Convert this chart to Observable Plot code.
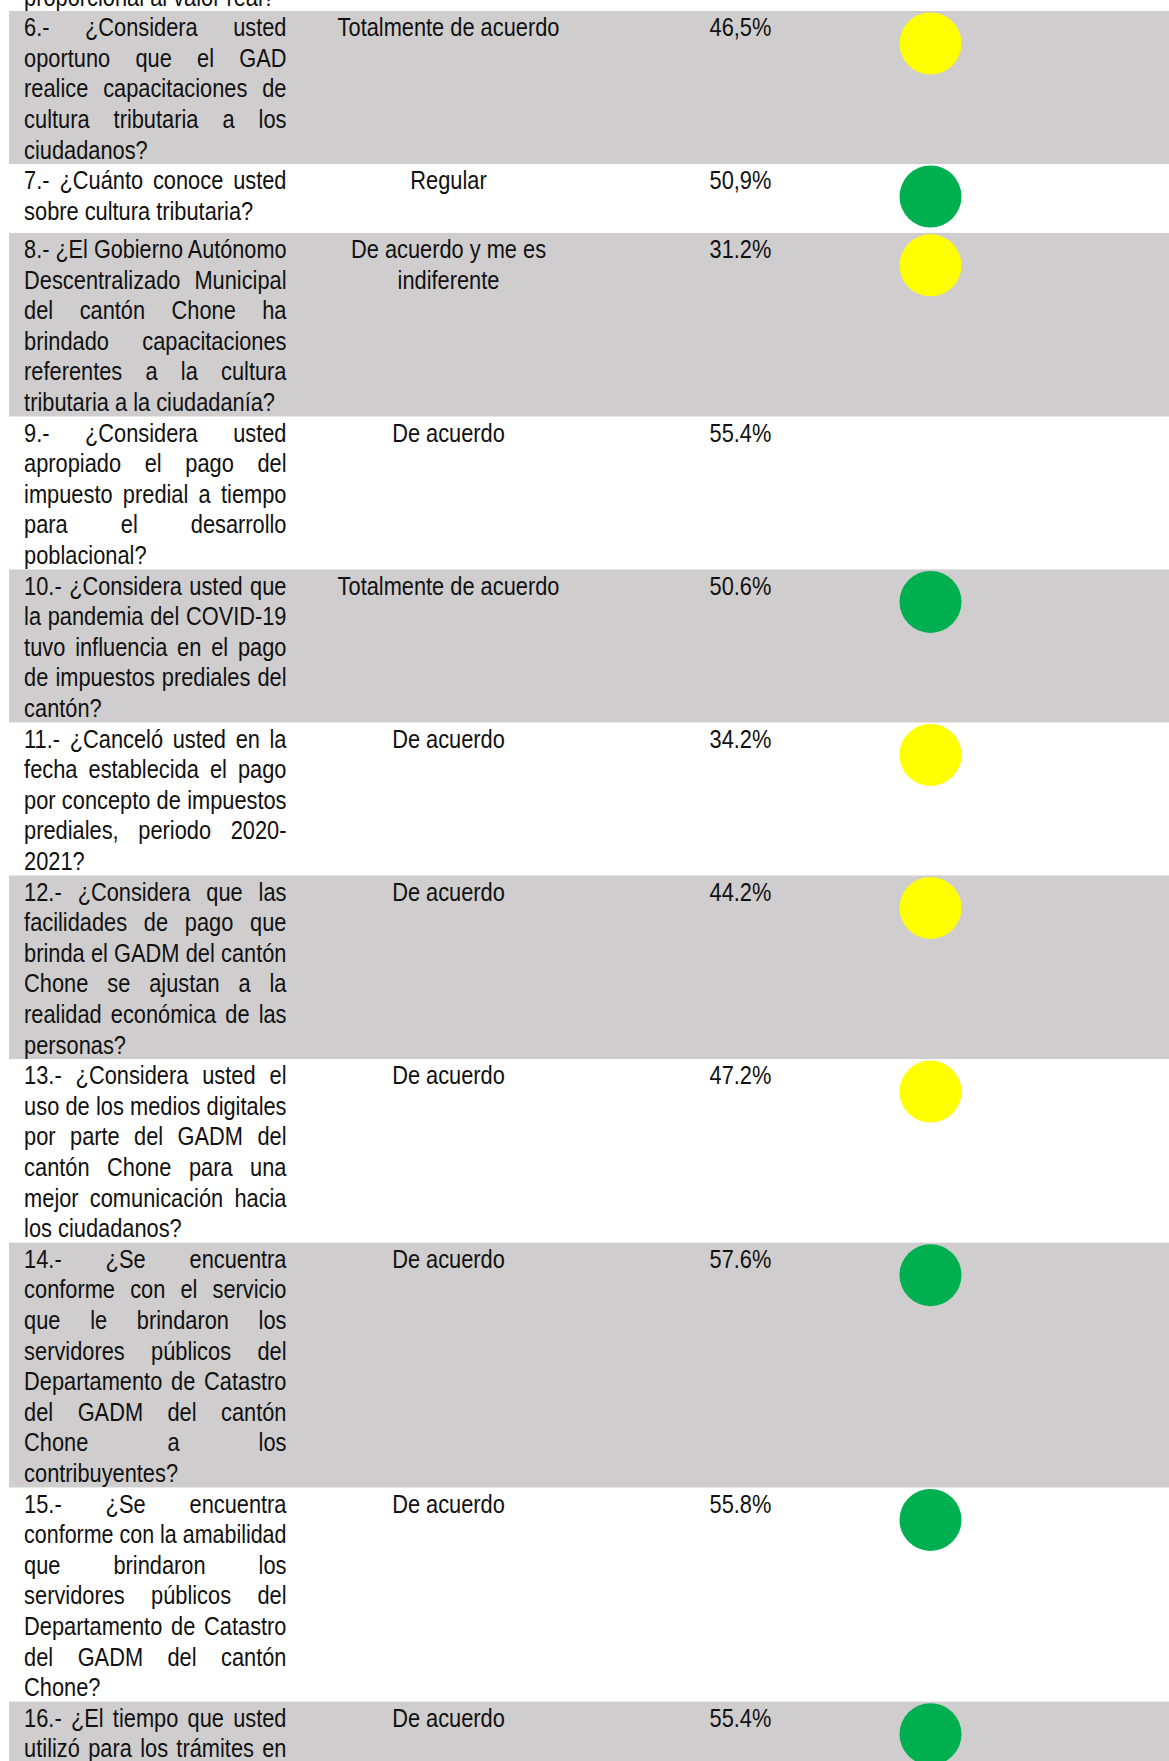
<!DOCTYPE html>
<html>
<head>
<meta charset="utf-8">
<script src="https://cdn.jsdelivr.net/npm/d3@7"></script>
<script src="https://cdn.jsdelivr.net/npm/@observablehq/plot@0.6"></script>
<style>
  html, body { margin: 0; padding: 0; background: #fff; }
</style>
</head>
<body>
<script>
// ---------- DATA ----------
const lineaAnterior = ["proporcional al valor real?"];

const preguntas = [
  ["6.- ¿Considera usted", "oportuno que el GAD", "realice capacitaciones de", "cultura tributaria a los", "ciudadanos?"],
  ["7.- ¿Cuánto conoce usted", "sobre cultura tributaria?"],
  ["8.- ¿El Gobierno Autónomo", "Descentralizado Municipal", "del cantón Chone ha", "brindado capacitaciones", "referentes a la cultura", "tributaria a la ciudadanía?"],
  ["9.- ¿Considera usted", "apropiado el pago del", "impuesto predial a tiempo", "para el desarrollo", "poblacional?"],
  ["10.- ¿Considera usted que", "la pandemia del COVID-19", "tuvo influencia en el pago", "de impuestos prediales del", "cantón?"],
  ["11.- ¿Canceló usted en la", "fecha establecida el pago", "por concepto de impuestos", "prediales, periodo 2020-", "2021?"],
  ["12.- ¿Considera que las", "facilidades de pago que", "brinda el GADM del cantón", "Chone se ajustan a la", "realidad económica de las", "personas?"],
  ["13.- ¿Considera usted el", "uso de los medios digitales", "por parte del GADM del", "cantón Chone para una", "mejor comunicación hacia", "los ciudadanos?"],
  ["14.- ¿Se encuentra", "conforme con el servicio", "que le brindaron los", "servidores públicos del", "Departamento de Catastro", "del GADM del cantón", "Chone a los", "contribuyentes?"],
  ["15.- ¿Se encuentra", "conforme con la amabilidad", "que brindaron los", "servidores públicos del", "Departamento de Catastro", "del GADM del cantón", "Chone?"],
  ["16.- ¿El tiempo que usted", "utilizó para los trámites en"]
];

const respuestas = [
  "Totalmente de acuerdo",
  "Regular",
  "De acuerdo y me es\nindiferente",
  "De acuerdo",
  "Totalmente de acuerdo",
  "De acuerdo",
  "De acuerdo",
  "De acuerdo",
  "De acuerdo",
  "De acuerdo",
  "De acuerdo"
];

const porcentajes = ["46,5%", "50,9%", "31.2%", "55.4%", "50.6%", "34.2%", "44.2%", "47.2%", "57.6%", "55.8%", "55.4%"];

const semaforo = ["amarillo", "verde", "amarillo", null, "verde", "amarillo", "amarillo", "amarillo", "verde", "verde", "verde"];

// ---------- LAYOUT ----------
const W = 1169, H = 1761;
const LH = 30.6;            // line height in px
const topOffset = 11;       // px from top to first full row
const minRowLines = 2.25;   // minimum row height (in lines)
const lastRowLines = 6;     // last row continues past the bottom edge
const col = { bandLeft: 9, qLeft: 23.6, qRight: 286, answer: 448, pct: 709, dot: 930 };
const dotR = 31;
const FONT = 26.6;
const NARROW = 0.82;        // horizontal condensing (Arial Narrow look)
const textDy = 0.53;        // centre of first line below row top (in lines)

// build row records (y in "line" units, 0 = top of first full row)
let acc = 0;
const filas = preguntas.map((lines, i) => {
  const n = i === preguntas.length - 1 ? lastRowLines : Math.max(lines.length, minRowLines);
  const r = { i, top: acc, bottom: acc + n, lines, respuesta: respuestas[i], pct: porcentajes[i], color: semaforo[i], gris: i % 2 === 0 };
  acc += n;
  return r;
});

const lineasPregunta = [];
lineaAnterior.forEach((t, k) => lineasPregunta.push({ text: t, y: -(lineaAnterior.length - k) + textDy, last: true }));
filas.forEach((f, fi) => {
  f.lines.forEach((t, k) => lineasPregunta.push({
    text: t, y: f.top + k + textDy,
    last: k === f.lines.length - 1 && fi !== filas.length - 1
  }));
});

const lineasRespuesta = [];
filas.forEach(f => f.respuesta.split("\n").forEach((t, k) => lineasRespuesta.push({ text: t, y: f.top + k + textDy })));

const yDomain = [-topOffset / LH, (H - topOffset) / LH];

const chart = Plot.plot({
  width: W,
  height: H,
  margin: 0,
  x: { domain: [0, W], range: [0, W], axis: null },
  y: { domain: yDomain, range: [0, H], axis: null },
  color: { domain: ["amarillo", "verde"], range: ["#ffff00", "#00b050"] },
  style: {
    fontFamily: "'Liberation Sans', Arial, sans-serif",
    fontSize: FONT + "px",
    color: "#111",
    background: "#fff",
    overflow: "hidden"
  },
  marks: [
    Plot.rect(filas.filter(f => f.gris), {
      x1: () => col.bandLeft, x2: () => W,
      y1: d => d.top, y2: d => d.bottom,
      fill: "#cfcdce"
    }),
    Plot.text(lineasPregunta, {
      x: () => col.qLeft, y: "y", text: "text",
      textAnchor: "start", fontSize: FONT, fill: "#111"
    }),
    Plot.text(lineasRespuesta, {
      x: () => col.answer, y: "y", text: "text",
      textAnchor: "middle", fontSize: FONT, fill: "#111"
    }),
    Plot.text(filas, {
      x: () => col.pct, y: d => d.top + textDy, text: "pct",
      textAnchor: "start", fontSize: FONT, fill: "#111"
    }),
    Plot.dot(filas.filter(f => f.color), {
      x: () => col.dot, y: d => d.top + 32 / LH,
      r: dotR, fill: "color", stroke: null
    })
  ]
});

document.body.append(chart);

// condense all texts horizontally
const groups = chart.querySelectorAll('g[aria-label="text"]');
groups.forEach(g => g.querySelectorAll("text").forEach(el => {
  const t = el.getAttribute("transform") || "";
  el.setAttribute("transform", t + ` scale(${NARROW},1)`);
}));

// justify question lines like the original document
const target = (col.qRight - col.qLeft) / NARROW;
const gq = groups[0];
if (gq) {
  gq.querySelectorAll("text").forEach((el, i) => {
    const d = lineasPregunta[i];
    if (!d) return;
    const w = el.getComputedTextLength();
    const spaces = (d.text.match(/ /g) || []).length;
    if (w > target) {
      el.setAttribute("textLength", target);
      el.setAttribute("lengthAdjust", "spacingAndGlyphs");
    } else if (!d.last && spaces > 0) {
      el.style.wordSpacing = ((target - w) / spaces) + "px";
    }
  });
}
</script>
</body>
</html>
